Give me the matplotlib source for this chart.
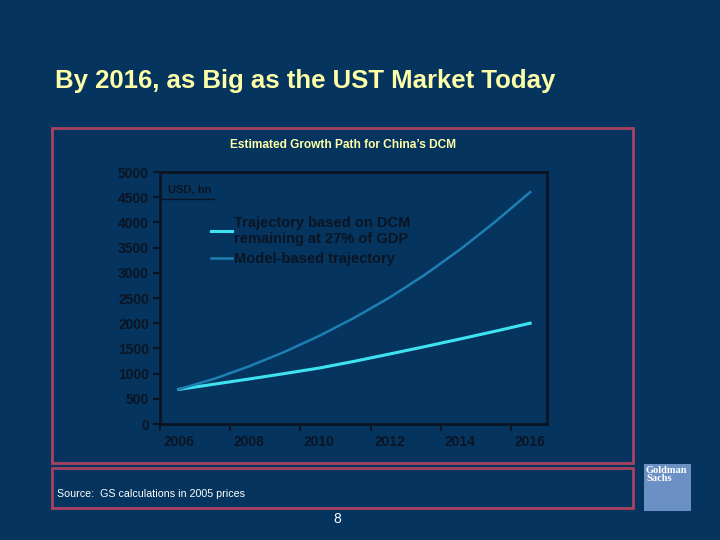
import matplotlib
matplotlib.use("Agg")
import matplotlib.pyplot as plt
from matplotlib.patches import Rectangle

plt.rcParams['font.family'] = ['Liberation Sans', 'DejaVu Sans']

# data (USD bn)
years = [2006, 2007, 2008, 2009, 2010, 2011, 2012, 2013, 2014, 2015, 2016]
gdp_share = [687, 790, 893, 1000, 1111, 1245, 1389, 1535, 1686, 1840, 2000]
model = [690, 895, 1145, 1430, 1750, 2110, 2510, 2960, 3460, 4010, 4600]
year_labels = ['2006', '2008', '2010', '2012', '2014', '2016']
y_ticks = [0, 500, 1000, 1500, 2000, 2500, 3000, 3500, 4000, 4500, 5000]

bg = '#05355f'
red = '#a8415f'
pale = '#ffffa8'
dark = '#0b1422'

W, H = 720, 540
fig = plt.figure(figsize=(7.2, 5.4), dpi=100, facecolor=bg)

def fx(px):
    return px / W

def fy(py):
    return 1 - py / H

# page title
fig.text(fx(55), fy(81), 'By 2016, as Big as the UST Market Today', color=pale,
         fontsize=18.5, fontweight='bold', ha='left', va='center')

# frames
fig.patches.append(Rectangle((fx(52), fy(463)), fx(633 - 52), (463 - 128) / H,
                             transform=fig.transFigure, fill=False, ec=red, lw=2))
fig.patches.append(Rectangle((fx(52), fy(508)), fx(633 - 52), (508 - 468) / H,
                             transform=fig.transFigure, fill=False, ec=red, lw=2))

# logo
fig.patches.append(Rectangle((fx(644), fy(511)), fx(691 - 644), (511 - 464) / H,
                             transform=fig.transFigure, fc='#6b91c4', ec='none'))
fig.text(fx(646), fy(466), 'Goldman\nSachs', color='white', fontsize=7.5,
         family='Liberation Serif', fontweight='bold', ha='left', va='top',
         linespacing=0.85)

# chart title
fig.text(fx(343), fy(145), "Estimated Growth Path for China\u2019s DCM", color=pale,
         fontsize=8.6, fontweight='bold', ha='center', va='center')

# axes
ax = fig.add_axes([fx(160), fy(424), fx(547 - 160), (424 - 172) / H])
ax.set_facecolor(bg)
ax.plot(years, gdp_share, color='#3ee3f2', lw=2.2, label='Trajectory based on DCM\nremaining at 27% of GDP')
ax.plot(years, model, color='#1d7fb3', lw=1.8, label='Model-based trajectory')

x0, x1 = 2005.46, 2016.48
ax.set_xlim(x0, x1)
ax.set_ylim(0, 5000)
ax.set_yticks(y_ticks)
ax.set_xticks(years[::2])
ax.set_xticklabels(year_labels)
ax.set_xticks([x0 + 2 * k for k in range(6)], minor=True)
ax.tick_params(axis='x', which='major', length=0, pad=8)
ax.tick_params(axis='x', which='minor', length=5, width=1.5, color=dark, direction='out')
ax.tick_params(axis='y', length=5, width=1.5, color=dark, direction='out', pad=3)
for lab in ax.get_xticklabels() + ax.get_yticklabels():
    lab.set_fontweight('bold')
    lab.set_fontsize(10)
    lab.set_color(dark)
for s in ax.spines.values():
    s.set_color(dark)
    s.set_linewidth(2)

ax.text(0.02, 0.929, 'USD, bn', transform=ax.transAxes, color=dark, fontsize=8,
        fontweight='bold', ha='left', va='center')
ax.plot([0.005, 0.14], [0.893, 0.893], transform=ax.transAxes, color=dark, lw=1)

leg = ax.legend(loc='upper left', bbox_to_anchor=(fx(198), fy(203)),
                bbox_transform=fig.transFigure, frameon=False, fontsize=10.5,
                handlelength=1.4, handletextpad=0.2, labelspacing=0.4)
for t in leg.get_texts():
    t.set_color(dark)
    t.set_fontweight('bold')
    t.set_linespacing(1.15)

# footer
fig.text(fx(57), fy(494), 'Source:  GS calculations in 2005 prices', color='white',
         fontsize=7.7, ha='left', va='center')
fig.text(fx(337), fy(519), '8', color='white', fontsize=10, ha='center', va='center')

fig.savefig('out.png', dpi=100, facecolor=bg)
